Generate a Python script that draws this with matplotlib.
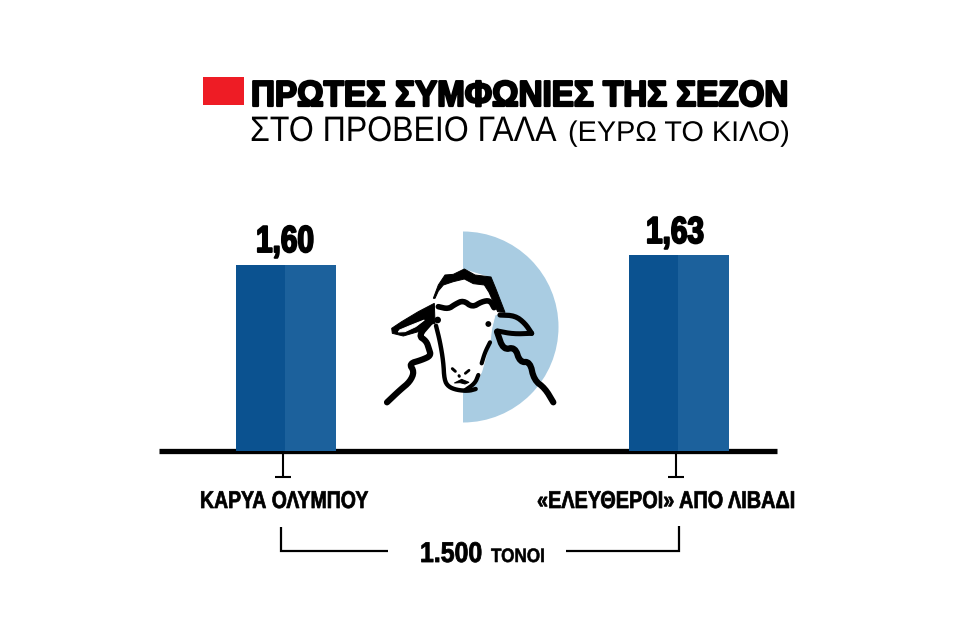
import matplotlib
matplotlib.use("Agg")
import matplotlib.pyplot as plt
import matplotlib.patheffects as pe
from matplotlib.patches import Wedge, Rectangle, Polygon, Circle
from matplotlib.transforms import Affine2D

# data
places = ["ΚΑΡΥΑ ΟΛΥΜΠΟΥ", "«ΕΛΕΥΘΕΡΟΙ» ΑΠΟ ΛΙΒΑΔΙ"]
prices = [1.60, 1.63]
price_labels = ["1,60", "1,63"]
title_bold = "ΠΡΩΤΕΣ ΣΥΜΦΩΝΙΕΣ ΤΗΣ ΣΕΖΟΝ"
title_light = "ΣΤΟ ΠΡΟΒΕΙΟ ΓΑΛΑ"
title_unit = "(ΕΥΡΩ ΤΟ ΚΙΛΟ)"
total_num = "1.500"
total_unit = "ΤΟΝΟΙ"

DARK = "#0b5290"
LIGHT = "#1c619c"
FONT = ["Liberation Sans", "DejaVu Sans"]


class Squeeze(pe.AbstractPathEffect):
    # no condensed font is installed, so narrow the glyphs around x0 and fatten them
    def __init__(self, x0, sx, stroke=0.0):
        super().__init__()
        self.x0, self.sx, self.stroke = x0, sx, stroke

    def draw_path(self, renderer, gc, tpath, affine, rgbFace=None):
        squeezed = affine + Affine2D().translate(-self.x0, 0).scale(self.sx, 1).translate(self.x0, 0)
        gc0 = renderer.new_gc()
        gc0.copy_properties(gc)
        gc0.set_linewidth(self.stroke)
        gc0.set_foreground("black")
        renderer.draw_path(gc0, tpath, squeezed, rgbFace)
        gc0.restore()


fig = plt.figure(figsize=(9.6, 6.2), dpi=100)
renderer = fig.canvas.get_renderer()

# pixel overlay, y goes down like in the picture
ov = fig.add_axes([0, 0, 1, 1], zorder=1)
ov.set_xlim(0, 960)
ov.set_ylim(620, 0)
ov.axis("off")

# bars: y scale puts 1.60 at 186 px and 1.63 at 195 px over the baseline
ax = fig.add_axes([0, 0, 1, 1], zorder=2)
ax.patch.set_alpha(0)
ax.axis("off")
unit = 392.5
ax.set_xlim(-286 / unit, (960 - 286) / unit)
per_value = 9.5 / 0.03
base = 1.60 - 186 / per_value
ax.set_ylim(base - (620 - 451) / per_value, base + 451 / per_value)
w_dark, w_light = 49 / unit, 51 / unit
left = -50 / unit
for x, p in enumerate(prices):
    ax.bar(x + left, p - base, w_dark, bottom=base, color=DARK, linewidth=0, align="edge")
    ax.bar(x + left + w_dark, p - base, w_light, bottom=base, color=LIGHT, linewidth=0, align="edge")


def fit(x0, x1, y, s, size, stroke=0.0, weight="bold"):
    t = ov.text(x0, y, s, fontsize=size, family=FONT, weight=weight, ha="left",
                va="baseline", color="black", zorder=6)
    width = t.get_window_extent(renderer).width
    t.set_path_effects([Squeeze(x0, (x1 - x0) / width, stroke)])
    return t


# title
ov.add_patch(Rectangle((203, 77), 41, 28, color="#ee1c25", lw=0))
fit(251, 788, 106, title_bold, 26, 1.6)
fit(250, 556, 141, title_light, 25.5, 0, "normal")
fit(568, 790, 141, title_unit, 20.5, 0, "normal")

# values
fit(256, 314, 252, price_labels[0], 27, 1.4)
fit(646, 704, 243, price_labels[1], 27, 1.4)

# baseline and ticks
ov.plot([159, 777], [451, 451], color="black", lw=3.8, solid_capstyle="butt", zorder=5)
for tx in [283, 676]:
    ov.plot([tx, tx], [451, 477], color="black", lw=1.5, solid_capstyle="butt")
    ov.plot([tx - 8, tx + 8], [477, 477], color="black", lw=1.5, solid_capstyle="butt")

fit(200, 368, 508, places[0], 17.5, 0.5)
fit(537, 795, 508, places[1], 17.5, 0.5)

# bracket
ov.plot([281, 281, 388], [527, 551, 551], color="black", lw=1.6, solid_joinstyle="miter", solid_capstyle="butt")
ov.plot([566, 679, 679], [551, 551, 526], color="black", lw=1.6, solid_joinstyle="miter", solid_capstyle="butt")
fit(420, 482, 562, total_num, 20.5, 0.6)
fit(491, 545, 562, total_unit, 14, 0.4)

# half disc behind the sheep
ov.add_patch(Wedge((463, 327), 95.5, -90, 90, color="#a9cce2", lw=0, zorder=2))


def zp(points):
    return [(385 + a / 3, 265 + b / 3) for a, b in points]


def smooth(points):
    # corner cutting, the traced outlines are too angular otherwise
    for _ in range(2):
        out = [points[0]]
        for (a, b), (c, d) in zip(points, points[1:]):
            out += [(0.75 * a + 0.25 * c, 0.75 * b + 0.25 * d), (0.25 * a + 0.75 * c, 0.25 * b + 0.75 * d)]
        points = out + [points[-1]]
    return points


def fill(points, color="black", z=4):
    ov.add_patch(Polygon(zp(points), closed=True, facecolor=color, edgecolor=color, lw=0.7, zorder=z))


def stroke(points, px):
    xs_, ys_ = zip(*zp(smooth(points)))
    ov.plot(xs_, ys_, color="black", lw=px * 0.72, solid_capstyle="round", solid_joinstyle="round", zorder=4)


# white head over the disc
fill([(150, 100), (180, 30), (240, 15), (315, 38), (358, 140), (330, 150), (320, 190), (315, 230),
      (290, 320), (280, 340), (240, 378), (200, 370), (178, 345), (165, 230), (150, 170)], "white", 3)

# wool on top
fill([(145, 100), (160, 60), (180, 30), (205, 28), (238, 12), (270, 30), (318, 36), (332, 70), (360, 142),
      (338, 140), (312, 82), (298, 60), (265, 56), (238, 42), (205, 50), (175, 60), (160, 78), (150, 100)])
stroke([(160, 125), (190, 132), (210, 118), (235, 106), (262, 127), (290, 110), (315, 106), (327, 128)], 5.6)

# left ear
fill([(148, 115), (100, 140), (50, 170), (20, 190), (22, 205), (55, 213), (100, 200), (135, 178), (150, 175)])
fill([(44, 195), (75, 182), (118, 165), (92, 185), (60, 200), (40, 201)], "white", 5)

# left neck
stroke([(135, 172), (100, 212), (124, 228), (132, 252), (138, 272), (110, 285), (72, 296), (88, 320),
        (75, 350), (45, 375), (6, 412)], 6.2)

# face
stroke([(153, 182), (165, 230), (175, 290), (178, 345), (190, 365), (215, 375), (250, 378), (272, 372)], 4.4)
stroke([(315, 232), (300, 262), (290, 295)], 4.2)
stroke([(280, 330), (270, 355), (240, 376)], 4.2)
ov.add_patch(Circle(zp([(158, 165)])[0], 3.3, color="black", lw=0, zorder=5))
ov.add_patch(Circle(zp([(310, 177)])[0], 2.9, color="black", lw=0, zorder=5))
stroke([(202, 311), (211, 319)], 3)
stroke([(241, 325), (252, 316)], 2.8)
stroke([(222, 332), (223, 334)], 3)
fill([(208, 354), (230, 343), (252, 352), (240, 357), (225, 353)])

# right ear and neck
stroke([(345, 150), (390, 152), (420, 175), (440, 205)], 5.2)
stroke([(440, 205), (385, 207), (338, 198)], 5)
stroke([(336, 200), (355, 255), (390, 246), (405, 292), (435, 290), (447, 345), (480, 370), (505, 412)], 6.2)

fig.savefig("out.png", dpi=100, facecolor="white")
